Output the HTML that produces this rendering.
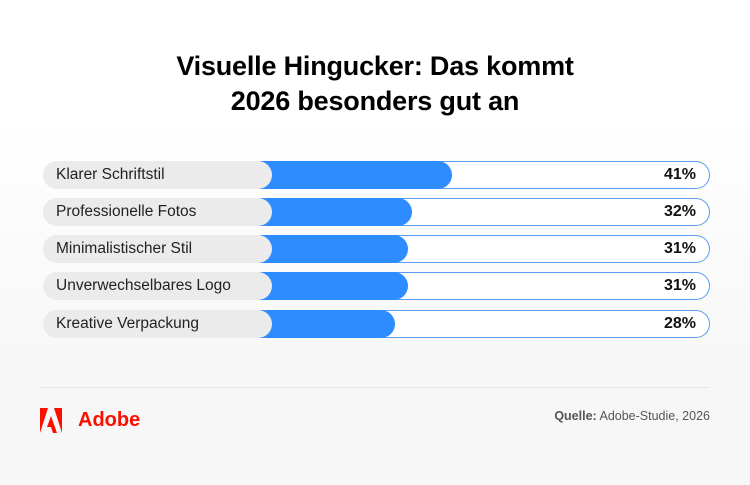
<!DOCTYPE html>
<html><head><meta charset="utf-8"><style>
body{margin:0;width:750px;height:485px;background:linear-gradient(#fff 0,#fff 120px,#f7f7f7 360px,#f7f7f7);font-family:"Liberation Sans",sans-serif;position:relative;overflow:hidden}
h1{position:absolute;top:49px;left:0;width:750px;text-align:center;margin:0;font-size:27px;line-height:35px;font-weight:bold;color:#000;letter-spacing:-0.2px}
.row{position:absolute;left:43px;width:667px;height:28px}
.out{position:absolute;left:210px;right:0;top:0;bottom:0;border:1.5px solid #5a9cf5;border-left:none;border-radius:0 14px 14px 0;background:#fff;box-sizing:border-box}
.fill{position:absolute;left:210px;top:0;height:28px;background:#2d8cff;border-radius:0 14px 14px 0}
.lab{position:absolute;left:0;top:0;width:229px;height:28px;background:#ebebeb;border-radius:14px;font-size:15.5px;line-height:28px;padding-left:13px;box-sizing:border-box;color:#222}
.pct{position:absolute;right:14px;top:0;line-height:28px;font-size:16px;font-weight:bold;color:#111}
</style></head><body>
<h1>Visuelle Hingucker: Das kommt<br>2026 besonders gut an</h1>
<div class="row" style="top:161px"><div class="out"></div><div class="fill" style="width:199px"></div><div class="lab">Klarer Schriftstil</div><div class="pct">41%</div></div>
<div class="row" style="top:198px"><div class="out"></div><div class="fill" style="width:159px"></div><div class="lab">Professionelle Fotos</div><div class="pct">32%</div></div>
<div class="row" style="top:235px"><div class="out"></div><div class="fill" style="width:155px"></div><div class="lab">Minimalistischer Stil</div><div class="pct">31%</div></div>
<div class="row" style="top:272px"><div class="out"></div><div class="fill" style="width:155px"></div><div class="lab">Unverwechselbares Logo</div><div class="pct">31%</div></div>
<div class="row" style="top:310px"><div class="out"></div><div class="fill" style="width:142px"></div><div class="lab">Kreative Verpackung</div><div class="pct">28%</div></div>
<div style="position:absolute;left:40px;top:387px;width:670px;height:1px;background:#e6e6e6"></div>
<svg style="position:absolute;left:40px;top:408px" width="22" height="25" viewBox="0 0 22 25"><polygon points="0,0 8,0 0,25" fill="#fa0f00"/><polygon points="14,0 22,0 22,25" fill="#fa0f00"/><polygon points="11,8 17,25 13,25 11,19 7,19" fill="#fa0f00"/></svg>
<div style="position:absolute;left:78px;top:409px;font-size:20px;font-weight:bold;color:#fa0f00">Adobe</div>
<div style="position:absolute;right:40px;top:409px;font-size:12.5px;color:#555"><b>Quelle:</b> Adobe-Studie, 2026</div>
</body></html>
